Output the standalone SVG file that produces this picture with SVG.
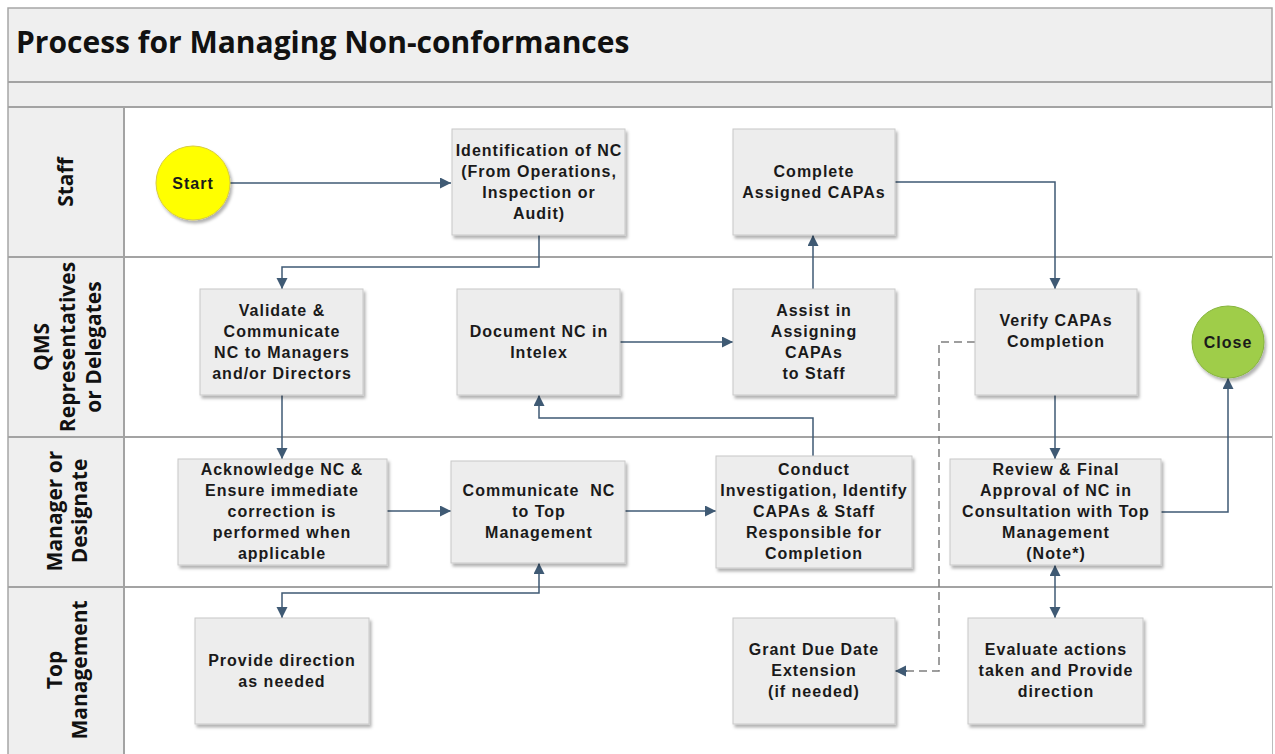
<svg xmlns="http://www.w3.org/2000/svg" width="1275" height="754" viewBox="0 0 1275 754">
  <defs>
    <filter id="shadow" x="-10%" y="-10%" width="125%" height="130%">
      <feDropShadow dx="2" dy="3" stdDeviation="1.8" flood-color="#000" flood-opacity="0.3"/>
    </filter>
    <marker id="arrow" markerUnits="userSpaceOnUse" markerWidth="12" markerHeight="12" refX="11" refY="5.5" orient="auto-start-reverse">
      <path d="M0,0 L11,5.5 L0,11 z" fill="#3f5a74"/>
    </marker>
    <style>
      .frame { fill: #efefef; stroke: #a6a6a6; stroke-width: 1.5; }
      .lane { fill: #ffffff; }
      .rule { stroke: #a3a3a3; stroke-width: 2; fill: none; }
      .lane-label { font-family: "Open Sans", "Liberation Sans", sans-serif; font-weight: 700; font-size: 21px; fill: #111; text-anchor: middle; dominant-baseline: central; }
      .title { font-family: "Open Sans", "Liberation Sans", sans-serif; font-weight: 700; font-size: 30px; fill: #111; }
      .box { fill: #ededed; stroke: #c8c8c8; stroke-width: 1; filter: url(#shadow); }
      .label { font-family: "Liberation Sans", Arial, sans-serif; font-weight: 700; font-size: 16px; letter-spacing: 1px; fill: #1a1a1a; text-anchor: middle; white-space: pre; }
      .start { fill: #ffff00; stroke: #d8cc40; stroke-width: 1; filter: url(#shadow); }
      .close { fill: #9fcd4a; stroke: #86b43c; stroke-width: 1; filter: url(#shadow); }
      .flow { fill: none; stroke: #3f5a74; stroke-width: 1.5; }
      .dashed { fill: none; stroke: #7f7f7f; stroke-width: 1.5; stroke-dasharray: 8 5; }
    </style>
  </defs>

  <!-- pool frame and title -->
  <rect class="frame" x="8" y="8" width="1264" height="750"/>
  <text class="title" x="16" y="53">Process for Managing Non-conformances</text>
  <rect class="lane" x="124" y="107" width="1148" height="647"/>
  <line class="rule" x1="8" y1="82" x2="1272" y2="82"/>
  <line class="rule" x1="8" y1="107" x2="1272" y2="107"/>
  <line class="rule" x1="8" y1="257" x2="1272" y2="257"/>
  <line class="rule" x1="8" y1="437" x2="1272" y2="437"/>
  <line class="rule" x1="8" y1="587" x2="1272" y2="587"/>
  <line class="rule" x1="124" y1="107" x2="124" y2="754" stroke-width="1.5"/>

  <!-- swimlane headers -->
  <g id="lane-staff">
    <text class="lane-label" transform="translate(65,182) rotate(-90)">Staff</text>
  </g>
  <g id="lane-qms">
    <text class="lane-label" transform="translate(41,347) rotate(-90)">QMS</text>
    <text class="lane-label" transform="translate(67,347) rotate(-90)">Representatives</text>
    <text class="lane-label" transform="translate(93,347) rotate(-90)">or Delegates</text>
  </g>
  <g id="lane-manager">
    <text class="lane-label" transform="translate(54,511) rotate(-90)">Manager or</text>
    <text class="lane-label" transform="translate(79,511) rotate(-90)">Designate</text>
  </g>
  <g id="lane-top">
    <text class="lane-label" transform="translate(54,670) rotate(-90)">Top</text>
    <text class="lane-label" transform="translate(79,670) rotate(-90)">Management</text>
  </g>

  <!-- connectors -->
  <g id="connectors">
    <path class="flow" d="M230,183 H451" marker-end="url(#arrow)"/>
    <path class="flow" d="M539,235 V267 H282 V289" marker-end="url(#arrow)"/>
    <path class="flow" d="M282,395 V459" marker-end="url(#arrow)"/>
    <path class="flow" d="M387,511 H451" marker-end="url(#arrow)"/>
    <path class="flow" d="M625,511 H716" marker-end="url(#arrow)"/>
    <path class="flow" d="M282,618 V593 H539 V563" marker-start="url(#arrow)" marker-end="url(#arrow)"/>
    <path class="flow" d="M813,456 V418 H539 V395" marker-end="url(#arrow)"/>
    <path class="flow" d="M620,342 H733" marker-end="url(#arrow)"/>
    <path class="flow" d="M813,289 V235" marker-end="url(#arrow)"/>
    <path class="flow" d="M895,182 H1055 V289" marker-end="url(#arrow)"/>
    <path class="flow" d="M1055,395 V459" marker-end="url(#arrow)"/>
    <path class="flow" d="M1161,512 H1228 V378" marker-end="url(#arrow)"/>
    <path class="flow" d="M1055,565 V618" marker-start="url(#arrow)" marker-end="url(#arrow)"/>
    <path class="dashed" d="M975,342 H939 V671 H906"/>
    <path class="flow" d="M907,671 H895" marker-end="url(#arrow)" stroke-width="0"/>
  </g>

  <!-- Staff lane -->
  <g id="start">
    <ellipse class="start" cx="193" cy="183" rx="37" ry="37"/>
    <text class="label" x="193" y="189">Start</text>
  </g>
  <g id="identify-nc">
    <rect class="box" x="452" y="129" width="173" height="106"/>
    <text class="label" x="539" y="156">Identification of NC</text>
    <text class="label" x="539" y="177">(From Operations,</text>
    <text class="label" x="539" y="198">Inspection or</text>
    <text class="label" x="539" y="219">Audit)</text>
  </g>
  <g id="complete-capas">
    <rect class="box" x="733" y="129" width="162" height="106"/>
    <text class="label" x="814" y="177">Complete</text>
    <text class="label" x="814" y="198">Assigned CAPAs</text>
  </g>

  <!-- QMS lane -->
  <g id="validate-nc">
    <rect class="box" x="200" y="289" width="163" height="106"/>
    <text class="label" x="282" y="316">Validate &amp;</text>
    <text class="label" x="282" y="337">Communicate</text>
    <text class="label" x="282" y="358">NC to Managers</text>
    <text class="label" x="282" y="379">and/or Directors</text>
  </g>
  <g id="document-nc">
    <rect class="box" x="457" y="289" width="163" height="106"/>
    <text class="label" x="539" y="337">Document NC in</text>
    <text class="label" x="539" y="358">Intelex</text>
  </g>
  <g id="assign-capas">
    <rect class="box" x="733" y="289" width="162" height="106"/>
    <text class="label" x="814" y="316">Assist in</text>
    <text class="label" x="814" y="337">Assigning</text>
    <text class="label" x="814" y="358">CAPAs</text>
    <text class="label" x="814" y="379">to Staff</text>
  </g>
  <g id="verify-capas">
    <rect class="box" x="975" y="289" width="162" height="106"/>
    <text class="label" x="1056" y="326">Verify CAPAs</text>
    <text class="label" x="1056" y="347">Completion</text>
  </g>
  <g id="close">
    <ellipse class="close" cx="1228" cy="342" rx="36" ry="36"/>
    <text class="label" x="1228" y="348">Close</text>
  </g>

  <!-- Manager lane -->
  <g id="acknowledge-nc">
    <rect class="box" x="178" y="459" width="209" height="106"/>
    <text class="label" x="282" y="475">Acknowledge NC &amp;</text>
    <text class="label" x="282" y="496">Ensure immediate</text>
    <text class="label" x="282" y="517">correction is</text>
    <text class="label" x="282" y="538">performed when</text>
    <text class="label" x="282" y="559">applicable</text>
  </g>
  <g id="communicate-nc">
    <rect class="box" x="451" y="461" width="174" height="102"/>
    <text class="label" x="539" y="496">Communicate  NC</text>
    <text class="label" x="539" y="517">to Top</text>
    <text class="label" x="539" y="538">Management</text>
  </g>
  <g id="investigate">
    <rect class="box" x="716" y="456" width="196" height="112"/>
    <text class="label" x="814" y="475">Conduct</text>
    <text class="label" x="814" y="496">Investigation, Identify</text>
    <text class="label" x="814" y="517">CAPAs &amp; Staff</text>
    <text class="label" x="814" y="538">Responsible for</text>
    <text class="label" x="814" y="559">Completion</text>
  </g>
  <g id="final-approval">
    <rect class="box" x="950" y="459" width="211" height="106"/>
    <text class="label" x="1056" y="475">Review &amp; Final</text>
    <text class="label" x="1056" y="496">Approval of NC in</text>
    <text class="label" x="1056" y="517">Consultation with Top</text>
    <text class="label" x="1056" y="538">Management</text>
    <text class="label" x="1056" y="559">(Note*)</text>
  </g>

  <!-- Top Management lane -->
  <g id="provide-direction">
    <rect class="box" x="195" y="618" width="174" height="106"/>
    <text class="label" x="282" y="666">Provide direction</text>
    <text class="label" x="282" y="687">as needed</text>
  </g>
  <g id="grant-extension">
    <rect class="box" x="733" y="618" width="162" height="106"/>
    <text class="label" x="814" y="655">Grant Due Date</text>
    <text class="label" x="814" y="676">Extension</text>
    <text class="label" x="814" y="697">(if needed)</text>
  </g>
  <g id="evaluate-actions">
    <rect class="box" x="968" y="618" width="175" height="106"/>
    <text class="label" x="1056" y="655">Evaluate actions</text>
    <text class="label" x="1056" y="676">taken and Provide</text>
    <text class="label" x="1056" y="697">direction</text>
  </g>
</svg>
